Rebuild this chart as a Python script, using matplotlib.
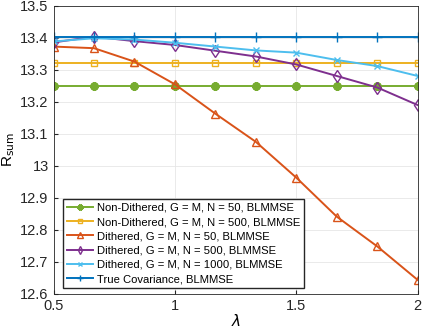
import matplotlib.pyplot as plt
import numpy as np

plt.rcParams['font.family'] = ['Liberation Sans', 'DejaVu Sans']

lam = [0.5, 0.6667, 0.8333, 1.0, 1.1667, 1.3333, 1.5, 1.6667, 1.8333, 2.0]
nd50 = [13.25] * 10
nd500 = [13.322] * 10
d50 = [13.373, 13.368, 13.326, 13.255, 13.163, 13.075, 12.963, 12.841, 12.748, 12.643]
d500 = [13.386, 13.404, 13.39, 13.378, 13.36, 13.342, 13.317, 13.281, 13.245, 13.19]
d1000 = [13.389, 13.399, 13.395, 13.385, 13.373, 13.361, 13.354, 13.331, 13.312, 13.281]
truecov = [13.402] * 10

labels = ["Non-Dithered, G = M, N = 50, BLMMSE",
          "Non-Dithered, G = M, N = 500, BLMMSE",
          "Dithered, G = M, N = 50, BLMMSE",
          "Dithered, G = M, N = 500, BLMMSE",
          "Dithered, G = M, N = 1000, BLMMSE",
          "True Covariance, BLMMSE"]

fig = plt.figure(figsize=(4.26, 3.32), dpi=100)
ax = fig.add_axes([0.1256, 0.1153, 0.855, 0.8667])

ax.plot(lam, nd50, color=(0.466, 0.674, 0.188), marker=(8, 2, 0), ms=6, mew=2, lw=1.4, label=labels[0])
ax.plot(lam, nd500, color=(0.929, 0.694, 0.125), marker='s', ms=5, mfc='none', lw=1.4, label=labels[1])
ax.plot(lam, d50, color=(0.85, 0.325, 0.098), marker='^', ms=6, mfc='none', lw=1.4, label=labels[2])
ax.plot(lam, d500, color=(0.494, 0.184, 0.556), marker='d', ms=6, mfc='none', lw=1.4, label=labels[3])
ax.plot(lam, d1000, color=(0.301, 0.745, 0.933), marker='x', ms=5, lw=1.4, label=labels[4])
ax.plot(lam, truecov, color=(0, 0.447, 0.741), marker='+', ms=7, lw=1.4, label=labels[5])

ax.set_xlim(0.5, 2)
ax.set_ylim(12.6, 13.5)
ax.set_xticks([0.5, 1, 1.5, 2])
ax.set_xticklabels(['0.5', '1', '1.5', '2'])
yt = np.round(np.arange(12.6, 13.51, 0.1), 1)
ax.set_yticks(yt)
ax.set_yticklabels(['%g' % v for v in yt])
ax.tick_params(direction='in', labelsize=10.5, length=3, color='#262626', labelcolor='#262626')
for s in ax.spines.values():
    s.set_color('#262626')
    s.set_linewidth(0.6)
ax.grid(True, color='#e6e6e6', lw=0.6)
ax.set_axisbelow(True)
ax.set_xlabel(r'$\lambda$', fontsize=11, labelpad=0)
ax.set_ylabel(r'R$_{\mathrm{sum}}$', fontsize=11, labelpad=2)
ax.legend(loc='lower left', fontsize=8.1, fancybox=False, edgecolor='#262626',
          framealpha=1, handlelength=2.3, labelspacing=0.38, borderpad=0.35,
          handletextpad=0.4, markerscale=0.7, bbox_to_anchor=(0.01, 0.0))

fig.savefig("out.png", dpi=100)
